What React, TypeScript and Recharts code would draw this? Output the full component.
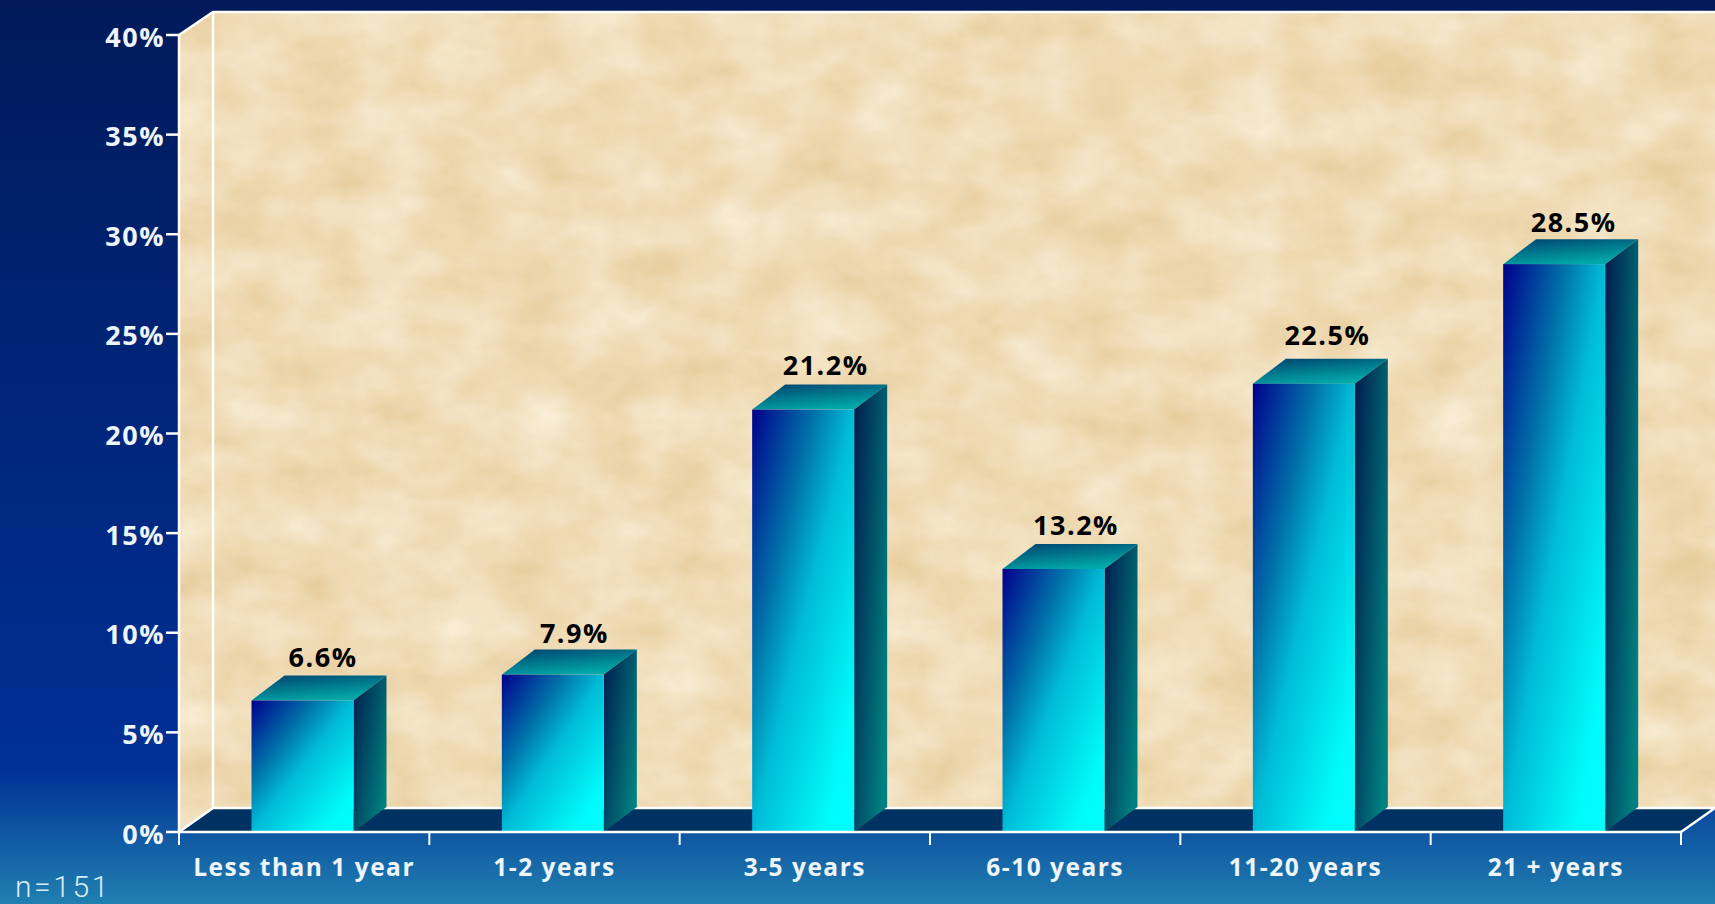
import { BarChart, Bar, XAxis, YAxis, LabelList, usePlotArea } from 'recharts'

const categories = ['Less than 1 year', '1-2 years', '3-5 years', '6-10 years', '11-20 years', '21 + years']
const shares = [6.6, 7.9, 21.2, 13.2, 22.5, 28.5]
const yTicks = [0, 5, 10, 15, 20, 25, 30, 35, 40]

const data = categories.map((name, i) => ({ name, share: shares[i] }))

const WIDTH = 1715
const HEIGHT = 904
const DEPTH_X = 34
const DEPTH_Y = 24
const BAR_DEPTH_X = 33
const BAR_DEPTH_Y = 25
const BAR_SHIFT = -1.5
const margin = { top: 35, right: DEPTH_X, bottom: 0, left: 79 }
const BAND = (WIDTH - 179 - DEPTH_X) / categories.length
const FONT = '"Open Sans", sans-serif'

// the value labels in the original don't sit at a constant offset from the bars
const labelShiftX = [0, 1, 2, 2, 3, -1]
const labelShiftY = [-1, 0, -3, -2, -7, 0]

// walls and floor behind the bars, offset from the plot area like an Excel 3D chart
function Walls() {
  const plot = usePlotArea()
  if (!plot) return null
  const l = plot.x
  const r = plot.x + plot.width
  const t = plot.y
  const b = plot.y + plot.height
  const backL = l + DEPTH_X
  const backR = r + DEPTH_X
  const backT = t - DEPTH_Y + 1
  const backB = b - DEPTH_Y
  return (
    <g>
      <defs>
        <filter id="parchment" x="0" y="0" width="1" height="1" colorInterpolationFilters="sRGB">
          <feTurbulence type="fractalNoise" baseFrequency="0.014 0.02" numOctaves={6} seed={23} />
          <feColorMatrix
            values="0.08 0 0 0 0.90
                    0.15 0 0 0 0.79
                    0.26 0 0 0 0.59
                    0 0 0 0 1"
          />
          <feComposite in2="SourceAlpha" operator="in" />
        </filter>
        <linearGradient id="barFront" x1="0" y1="0" x2="1" y2="1">
          <stop offset="0" stopColor="#00008c" />
          <stop offset="0.3" stopColor="#0070a8" />
          <stop offset="0.5" stopColor="#00bcd6" />
          <stop offset="0.85" stopColor="#00fbfb" />
          <stop offset="1" stopColor="#00ffff" />
        </linearGradient>
        <linearGradient id="barSide" x1="0" y1="0" x2="1" y2="0.7">
          <stop offset="0" stopColor="#001a4c" />
          <stop offset="1" stopColor="#008080" />
        </linearGradient>
        <linearGradient id="barTop" x1="0" y1="0" x2="0.5" y2="1">
          <stop offset="0" stopColor="#00406e" />
          <stop offset="1" stopColor="#00a8a8" />
        </linearGradient>
      </defs>
      <rect x={backL} y={backT} width={backR - backL} height={backB - backT} fill="#f0dfb8" filter="url(#parchment)" />
      <polygon points={`${l},${t} ${backL},${backT} ${backL},${backB} ${l},${b}`} fill="#eedcb4" filter="url(#parchment)" />
      <polygon points={`${l},${b} ${backL},${backB} ${backR},${backB} ${r},${b}`} fill="#003163" />
      <path
        d={`M${l},${t} L${backL},${backT} L${backR},${backT} M${backL},${backT} L${backL},${backB} L${backR},${backB} M${l},${b} L${backL},${backB} M${r},${b} L${backR},${backB}`}
        stroke="#fff"
        strokeWidth={2.5}
        fill="none"
      />
      <text x={15} y={897} fill="#dcecf4" fontFamily="Roboto, sans-serif" fontWeight={300} fontSize={30} letterSpacing={2.6}>
        n=151
      </text>
    </g>
  )
}

function Block(props: any) {
  const { y, width, height } = props
  const x = props.x + BAR_SHIFT
  const r = x + width
  const b = y + height
  return (
    <g>
      <polygon
        points={`${x},${y} ${x + BAR_DEPTH_X},${y - BAR_DEPTH_Y} ${r + BAR_DEPTH_X},${y - BAR_DEPTH_Y} ${r},${y}`}
        fill="url(#barTop)"
      />
      <polygon
        points={`${r},${y} ${r + BAR_DEPTH_X},${y - BAR_DEPTH_Y} ${r + BAR_DEPTH_X},${b - BAR_DEPTH_Y} ${r},${b}`}
        fill="url(#barSide)"
      />
      <rect x={x} y={y} width={width} height={height} fill="url(#barFront)" />
    </g>
  )
}

function ValueLabel(props: any) {
  const { x, y, width, value, index } = props
  return (
    <text
      x={x + width / 2 + 19 + labelShiftX[index]}
      y={y - 32 + labelShiftY[index]}
      textAnchor="middle"
      fill="#000"
      fontFamily={FONT}
      fontWeight={700}
      fontSize={27}
      letterSpacing={1.5}
    >
      {value.toFixed(1)}%
    </text>
  )
}

function CategoryTick(props: any) {
  const { x, y, payload, index } = props
  return (
    <g>
      <line x1={x - BAND / 2} x2={x - BAND / 2} y1={y} y2={y + 13} stroke="#fff" strokeWidth={2} />
      {index === categories.length - 1 && (
        <line x1={x + BAND / 2} x2={x + BAND / 2} y1={y} y2={y + 13} stroke="#fff" strokeWidth={2} />
      )}
      <text x={x} y={y + 44} textAnchor="middle" fill="#eef5fa" fontFamily={FONT} fontWeight={700} fontSize={24.5} letterSpacing={1.5}>
        {payload.value}
      </text>
    </g>
  )
}

export default function App() {
  return (
    <div
      style={{
        position: 'absolute',
        left: 0,
        top: 0,
        width: WIDTH,
        height: HEIGHT,
        overflow: 'hidden',
        background: 'linear-gradient(180deg, #001a5a 0%, #003096 85%, #2080b0 100%)',
      }}
    >
      <BarChart width={WIDTH} height={HEIGHT} data={data} margin={margin}>
        <Walls />
        <XAxis
          dataKey="name"
          height={72}
          interval={0}
          stroke="#fff"
          strokeWidth={2.5}
          tickLine={false}
          tickSize={0}
          tickMargin={0}
          tick={(p: any) => <CategoryTick {...p} />}
        />
        <YAxis
          width={100}
          domain={[0, 40]}
          ticks={yTicks}
          interval={0}
          stroke="#fff"
          strokeWidth={2.5}
          tickSize={13}
          tickMargin={1}
          tickFormatter={(v: number) => `${v}%`}
          tick={{ fill: '#eef5fa', fontFamily: FONT, fontWeight: 700, fontSize: 27, letterSpacing: 1.5, dy: 2 }}
        />
        <Bar dataKey="share" barSize={102} shape={Block} isAnimationActive={false}>
          <LabelList dataKey="share" content={ValueLabel} />
        </Bar>
      </BarChart>
    </div>
  )
}
